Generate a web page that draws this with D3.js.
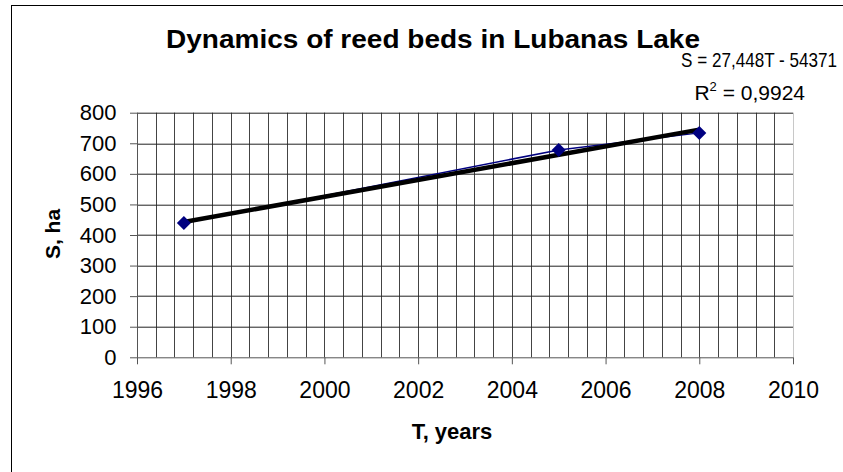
<!DOCTYPE html>
<html>
<head>
<meta charset="utf-8">
<script src="https://cdn.jsdelivr.net/npm/d3@7"></script>
<style>
	body { margin: 0; background: #fff; }
	text { font-family: Arial, "Liberation Sans", sans-serif; fill: #000; }
</style>
</head>
<body>
<svg id="chart" width="843" height="472"></svg>
<script>
	// observed points
	var years = [1997, 2005, 2008];
	var area = [439, 678, 734];
	// linear trend S = 27,448T - 54371
	var trendSlope = 27.448;
	var trendIntercept = -54371;
	var trendYears = [1997, 2008];
	var xTicks = [1996, 1998, 2000, 2002, 2004, 2006, 2008, 2010];
	var yTicks = [0, 100, 200, 300, 400, 500, 600, 700, 800];

	var svg = d3.select("#chart");

	var margin = { top: 112.7, right: 50, bottom: 114.7, left: 137 },
			width = 843 - margin.left - margin.right,
			height = 472 - margin.top - margin.bottom;

	// outer chart frame
	svg.append("rect")
		.attr("x", 11.5).attr("y", 5.5)
		.attr("width", 900).attr("height", 500)
		.attr("fill", "#fff").attr("stroke", "#000").attr("stroke-width", 1);

	var x_scale = d3.scaleLinear().domain([1996, 2010]).range([0, width]);
	var y_scale = d3.scaleLinear().domain([0, 800]).range([height, 0]);

	var root = svg.append("g")
			.attr("transform", "translate(" + margin.left + "," + margin.top + ")");

	// minor vertical grid every 0.4 year
	var vGrid = d3.range(0, 36).map(function (i) { return 1996 + i * 0.4; });
	root.append("g").selectAll("line")
		.data(vGrid.slice(1, 35))
		.enter().append("line")
			.attr("x1", function (d) { return Math.round(x_scale(d)) + 0.5; })
			.attr("x2", function (d) { return Math.round(x_scale(d)) + 0.5; })
			.attr("y1", 0).attr("y2", height)
			.attr("stroke", "#444").attr("stroke-width", 1);

	root.append("g").selectAll("line")
		.data(yTicks.slice(1))
		.enter().append("line")
			.attr("x1", 0).attr("x2", width)
			.attr("y1", function (d) { return Math.round(y_scale(d)) + 0.5; })
			.attr("y2", function (d) { return Math.round(y_scale(d)) + 0.5; })
			.attr("stroke", "#222").attr("stroke-width", 1);

	// right border of plot area
	root.append("line")
		.attr("x1", width + 0.5).attr("x2", width + 0.5)
		.attr("y1", 0).attr("y2", height)
		.attr("stroke", "#c8c8c8");

	var xAxis = d3.axisBottom(x_scale).tickValues(xTicks).tickSize(7).tickPadding(17.5)
			.tickFormat(d3.format("d"));
	var yAxis = d3.axisLeft(y_scale).tickValues(yTicks).tickSize(7).tickPadding(13.5);

	root.append("g")
		.attr("class", "xAxis")
		.attr("transform", "translate(0," + height + ")")
		.call(xAxis);

	root.append("g")
		.attr("class", "yAxis")
		.call(yAxis);

	root.select(".xAxis .domain").attr("stroke", "#555").attr("d", "M0,0.5H" + width);
	root.select(".yAxis .domain").attr("stroke", "#555").attr("d", "M0.5,0V" + height);
	root.selectAll(".tick line").attr("stroke", "#555");
	root.selectAll(".xAxis text").attr("font-family", null).style("font-size", "23px");
	root.selectAll(".yAxis text").attr("font-family", null).style("font-size", "22px");

	// data line
	var line = d3.line()
			.x(function (d, i) { return x_scale(years[i]); })
			.y(function (d) { return y_scale(d); });

	root.append("path")
		.datum(area)
		.attr("d", line)
		.attr("fill", "none")
		.attr("stroke", "#000080")
		.attr("stroke-width", 1.5);

	// trend line
	root.append("line")
		.attr("x1", x_scale(trendYears[0]))
		.attr("y1", y_scale(trendSlope * trendYears[0] + trendIntercept))
		.attr("x2", x_scale(trendYears[1]))
		.attr("y2", y_scale(trendSlope * trendYears[1] + trendIntercept))
		.attr("stroke", "#000").attr("stroke-width", 4.5);

	root.selectAll(".marker")
		.data(area)
		.enter().append("path")
			.attr("class", "marker")
			.attr("transform", function (d, i) { return "translate(" + x_scale(years[i]) + "," + y_scale(d) + ")"; })
			.attr("d", "M0,-7L7,0L0,7L-7,0Z")
			.attr("fill", "#000080");

	// titles
	svg.append("text")
		.attr("x", 166).attr("y", 48)
		.style("font-size", "25px").style("font-weight", "bold")
		.attr("textLength", 534).attr("lengthAdjust", "spacingAndGlyphs")
		.text("Dynamics of reed beds in Lubanas Lake");

	svg.append("text")
		.attr("x", 681).attr("y", 67)
		.style("font-size", "21px")
		.attr("textLength", 156).attr("lengthAdjust", "spacingAndGlyphs")
		.text("S = 27,448T - 54371");

	var r2 = svg.append("text")
		.attr("x", 805).attr("y", 100)
		.attr("text-anchor", "end")
		.style("font-size", "21px");
	r2.append("tspan").text("R");
	r2.append("tspan").attr("dy", -9).style("font-size", "13px").text("2");
	r2.append("tspan").attr("dy", 9).text(" = 0,9924");

	svg.append("text")
		.attr("x", 452).attr("y", 439)
		.attr("text-anchor", "middle")
		.style("font-size", "22px").style("font-weight", "bold")
		.text("T, years");

	svg.append("text")
		.attr("transform", "translate(60," + (margin.top + height / 2 - 1) + ") rotate(-90)")
		.attr("text-anchor", "middle")
		.style("font-size", "21px").style("font-weight", "bold")
		.text("S, ha");
</script>
</body>
</html>
